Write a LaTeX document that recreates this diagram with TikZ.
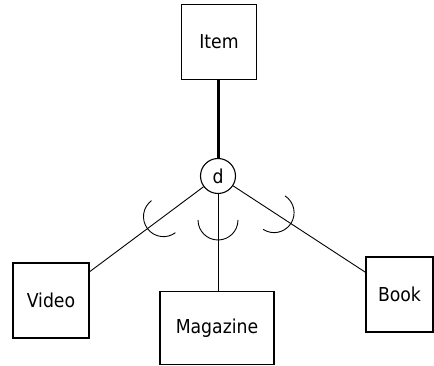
\documentclass[tikz,border=0pt]{standalone}
\usepackage{fontspec}
\setmainfont{DejaVu Sans Condensed}
\usetikzlibrary{calc}
\begin{document}
\begin{tikzpicture}[x=1pt,y=1pt,
  ent/.style={draw,line width=1.1pt,inner sep=0pt,font=\fontsize{19.2}{22}\selectfont},
  conn/.style={line width=0.9pt},
  subarc/.style={line width=0.9pt}]
\useasboundingbox (0,0) rectangle (434,-366);
\node[ent,minimum width=75pt,minimum height=75pt] (item) at (219,-42) {Item};
\node[ent,minimum width=76pt,minimum height=75pt] (video) at (51,-300.5) {Video};
\node[ent,minimum width=114pt,minimum height=73pt] (mag) at (217,-328) {Magazine};
\node[ent,minimum width=67pt,minimum height=75pt] (book) at (399.5,-294.5) {Book};
\node[draw,circle,line width=1.1pt,minimum size=35pt,inner sep=0pt,font=\fontsize{19.2}{22}\selectfont] (d) at (218,-176) {d};
\draw[line width=3pt] (d |- item.south) -- (d.north);
\draw[conn] (d) -- (video);
\draw[conn] (d) -- (book);
\draw[conn] (d.south) -- (d |- mag.north);
\coordinate (cv) at ($(d)!68pt!(video)$);
\coordinate (cb) at ($(d)!67pt!(book)$);
\coordinate (cm) at ($(d)!44pt!(d |- mag.north)$);
\draw[subarc] ($(cv)+(306.7:20pt)$) arc[start angle=306.7, end angle=126.7, radius=20pt];
\draw[subarc] ($(cb)+(56.9:20pt)$) arc[start angle=56.9, end angle=-123.1, radius=20pt];
\draw[subarc] ($(cm)+(0:20pt)$) arc[start angle=0, end angle=-180, radius=20pt];
\end{tikzpicture}
\end{document}
